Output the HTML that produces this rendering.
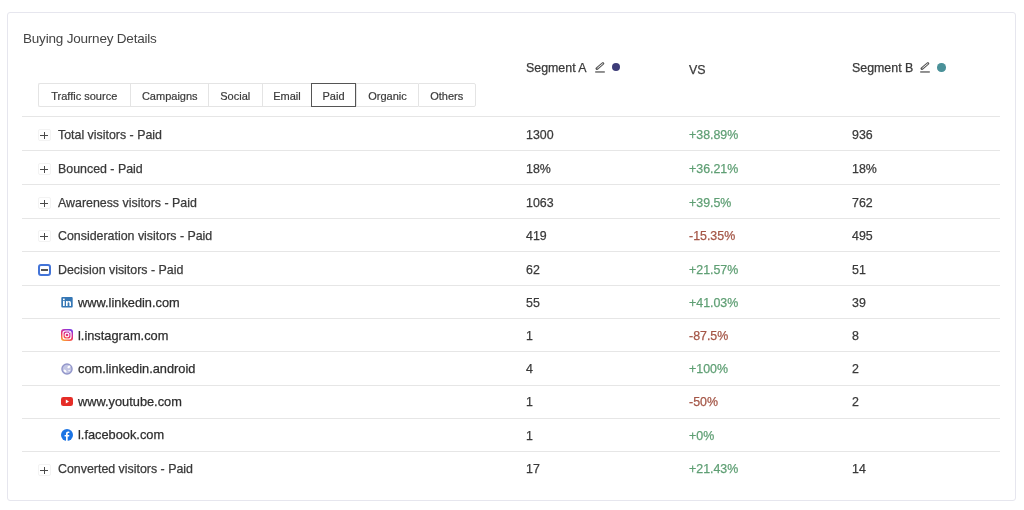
<!DOCTYPE html>
<html><head><meta charset="utf-8">
<style>
*{margin:0;padding:0;box-sizing:border-box}
html,body{width:1024px;height:510px;background:#fff;overflow:hidden;font-family:"Liberation Sans",sans-serif;color:#3a3a3a}
.card{position:absolute;left:7px;top:12px;width:1009px;height:489px;border:1px solid #e6e6ee;border-radius:3px;background:#fff}
.abs{position:absolute;white-space:nowrap;will-change:transform;-webkit-text-stroke:0.2px currentColor}
.title{left:23px;top:31px;font-size:13.5px;color:#444;letter-spacing:-0.2px;-webkit-text-stroke:0}
.tabs{position:absolute;left:0;top:0}
.tab{position:absolute;will-change:transform;-webkit-text-stroke:0.2px currentColor;top:83px;height:24px;font-size:11px;line-height:24px;color:#3a3a3a;text-align:center;border:1px solid #e4e4e4;border-right:none}
.tab:nth-child(7){border-right:1px solid #e4e4e4;border-radius:0 2px 2px 0}
.tab:first-child{border-radius:2px 0 0 2px}
.tab.on{border:1px solid #555;z-index:2}
.line{position:absolute;left:22px;width:978px;height:1px;background:#e6e6e6}
.txt{position:absolute;white-space:nowrap;font-size:12.4px;line-height:14px;will-change:transform;-webkit-text-stroke:0.25px currentColor}
.g{color:#5f9f74}
.r{color:#a45647}
.sub{color:#2e2e2e;font-size:12.8px;line-height:15px}
.plus{position:absolute;left:38px;width:13px;height:12px;border:1px solid #f3f3f3;border-radius:2px}
.plus:before{content:"";position:absolute;left:1px;top:5px;width:8px;height:1px;background:#4a4a4a}
.plus:after{content:"";position:absolute;left:4.5px;top:1.5px;width:1.2px;height:7.5px;background:#4a4a4a}
.ic{position:absolute}
.minus{position:absolute;left:38px;width:13px;height:12px;border:2px solid #4374d8;border-radius:3px}
.minus:before{content:"";position:absolute;left:0.8px;top:3.5px;width:7.4px;height:1.2px;background:#555}
</style></head><body>
<div class="card"></div>
<div class="abs title">Buying Journey Details</div>

<div class="tabs">
  <div class="tab" style="left:38px;width:91.5px">Traffic source</div>
  <div class="tab" style="left:129.5px;width:78.5px">Campaigns</div>
  <div class="tab" style="left:208px;width:53.5px">Social</div>
  <div class="tab" style="left:261.5px;width:49.0px">Email</div>
  <div class="tab on" style="left:310.5px;width:45.0px">Paid</div>
  <div class="tab" style="left:355.5px;width:62.0px">Organic</div>
  <div class="tab" style="left:417.5px;width:57.5px">Others</div>
</div>

<!-- header -->
<div class="txt" style="left:526px;top:61px;font-size:12.4px">Segment A</div>
<svg class="abs" style="left:594px;top:62px" width="12" height="12" viewBox="0 0 12 12"><path d="M2.9 6.6 L8.9 1.5" stroke="#5a5a5a" stroke-width="2.7" stroke-linecap="round"/><path d="M3.6 6.0 L8.6 1.8" stroke="#fff" stroke-width="0.9" stroke-linecap="round"/><rect x="1.2" y="9" width="9.6" height="1.9" fill="#8c8c8c"/></svg>
<div class="abs" style="left:612px;top:63.2px;width:8px;height:8px;border-radius:50%;background:#3d3c78"></div>
<div class="txt" style="left:689px;top:63px;font-size:12.4px">VS</div>
<div class="txt" style="left:852px;top:61px;font-size:12.4px">Segment B</div>
<svg class="abs" style="left:919px;top:62px" width="12" height="12" viewBox="0 0 12 12"><path d="M2.9 6.6 L8.9 1.5" stroke="#5a5a5a" stroke-width="2.7" stroke-linecap="round"/><path d="M3.6 6.0 L8.6 1.8" stroke="#fff" stroke-width="0.9" stroke-linecap="round"/><rect x="1.2" y="9" width="9.6" height="1.9" fill="#8c8c8c"/></svg>
<div class="abs" style="left:937px;top:63px;width:8.5px;height:8.5px;border-radius:50%;background:#4a9199"></div>

<!--ROWS-->
<div class="line" style="top:116px"></div>
<div class="line" style="top:150px"></div>
<div class="line" style="top:184px"></div>
<div class="line" style="top:217.5px"></div>
<div class="line" style="top:251px"></div>
<div class="line" style="top:285px"></div>
<div class="line" style="top:318px"></div>
<div class="line" style="top:351px"></div>
<div class="line" style="top:384.5px"></div>
<div class="line" style="top:418px"></div>
<div class="line" style="top:451px"></div>
<div class="plus" style="top:129px"></div>
<div class="txt" style="left:57.5px;top:128.10px">Total visitors - Paid</div>
<div class="txt" style="left:526px;top:128.10px">1300</div>
<div class="txt g" style="left:689px;top:128.10px">+38.89%</div>
<div class="txt" style="left:852px;top:128.10px">936</div>
<div class="plus" style="top:163px"></div>
<div class="txt" style="left:57.5px;top:161.95px">Bounced - Paid</div>
<div class="txt" style="left:526px;top:161.95px">18%</div>
<div class="txt g" style="left:689px;top:161.95px">+36.21%</div>
<div class="txt" style="left:852px;top:161.95px">18%</div>
<div class="plus" style="top:197px"></div>
<div class="txt" style="left:57.5px;top:195.70px">Awareness visitors - Paid</div>
<div class="txt" style="left:526px;top:195.70px">1063</div>
<div class="txt g" style="left:689px;top:195.70px">+39.5%</div>
<div class="txt" style="left:852px;top:195.70px">762</div>
<div class="plus" style="top:230px"></div>
<div class="txt" style="left:57.5px;top:229.40px">Consideration visitors - Paid</div>
<div class="txt" style="left:526px;top:229.40px">419</div>
<div class="txt r" style="left:689px;top:229.40px">-15.35%</div>
<div class="txt" style="left:852px;top:229.40px">495</div>
<div class="minus" style="top:263.9px"></div>
<div class="txt" style="left:57.5px;top:263.15px">Decision visitors - Paid</div>
<div class="txt" style="left:526px;top:263.15px">62</div>
<div class="txt g" style="left:689px;top:263.15px">+21.57%</div>
<div class="txt" style="left:852px;top:263.15px">51</div>
<svg class="ic" style="left:61px;top:297px" width="12" height="11" viewBox="0 0 12 11"><rect x="0.3" y="0" width="11.4" height="10.6" rx="1" fill="#3577b5"/><rect x="2" y="4" width="1.7" height="5" fill="#fff"/><rect x="2" y="1.6" width="1.7" height="1.6" fill="#fff"/><path d="M5 4 H6.6 V4.8 C7 4.1 7.6 3.9 8.3 3.9 C9.5 3.9 10 4.6 10 6 V9 H8.4 V6.3 C8.4 5.6 8.1 5.2 7.6 5.2 C7 5.2 6.6 5.6 6.6 6.3 V9 H5 Z" fill="#fff"/></svg>
<div class="txt sub" style="left:77.5px;top:294.66px">www.linkedin.com</div>
<div class="txt" style="left:526px;top:296.00px">55</div>
<div class="txt g" style="left:689px;top:296.00px">+41.03%</div>
<div class="txt" style="left:852px;top:296.00px">39</div>
<svg class="ic" style="left:61px;top:329px" width="12" height="12" viewBox="0 0 12 12"><defs><linearGradient id="igg" x1="0.1" y1="1" x2="0.6" y2="0"><stop offset="0" stop-color="#fdb631"/><stop offset="0.45" stop-color="#f0365f"/><stop offset="0.8" stop-color="#c02fb4"/><stop offset="1" stop-color="#7b3be0"/></linearGradient></defs><rect x="0" y="0" width="12" height="12" rx="3" fill="url(#igg)"/><rect x="2" y="2" width="8" height="8" rx="2.3" fill="none" stroke="#fff" stroke-width="1.1"/><circle cx="6" cy="6" r="1.9" fill="none" stroke="#fff" stroke-width="1.1"/><circle cx="8.4" cy="3.6" r="0.5" fill="#fff"/></svg>
<div class="txt sub" style="left:77.5px;top:327.66px">l.instagram.com</div>
<div class="txt" style="left:526px;top:329.20px">1</div>
<div class="txt r" style="left:689px;top:329.20px">-87.5%</div>
<div class="txt" style="left:852px;top:329.20px">8</div>
<svg class="ic" style="left:61px;top:362.5px" width="12" height="12" viewBox="0 0 12 12"><circle cx="6" cy="6" r="5.05" fill="#c3c6e4" stroke="#9296ca" stroke-width="1.4"/><ellipse cx="7.9" cy="3.9" rx="1.7" ry="1.1" transform="rotate(-40 7.9 3.9)" fill="#fff"/><ellipse cx="4.1" cy="8" rx="1.8" ry="1.0" transform="rotate(45 4.1 8)" fill="#fff"/><ellipse cx="8.2" cy="7.6" rx="1.1" ry="0.7" fill="#f4f4fb"/></svg>
<div class="txt sub" style="left:77.5px;top:360.66px">com.linkedin.android</div>
<div class="txt" style="left:526px;top:361.90px">4</div>
<div class="txt g" style="left:689px;top:361.90px">+100%</div>
<div class="txt" style="left:852px;top:361.90px">2</div>
<svg class="ic" style="left:61px;top:397.3px" width="12" height="9" viewBox="0 0 12 9"><rect x="0" y="0" width="12" height="9" rx="2.3" fill="#e52d27"/><path d="M4.8 2.6 L8 4.5 L4.8 6.4 Z" fill="#fff"/></svg>
<div class="txt sub" style="left:77.5px;top:393.66px">www.youtube.com</div>
<div class="txt" style="left:526px;top:395.30px">1</div>
<div class="txt r" style="left:689px;top:395.30px">-50%</div>
<div class="txt" style="left:852px;top:395.30px">2</div>
<svg class="ic" style="left:61px;top:428.8px" width="12" height="12" viewBox="0 0 12 12"><circle cx="6" cy="6" r="6" fill="#1b74e4"/><path d="M6.7 12 V7.6 H8.1 L8.35 6 H6.7 V5 C6.7 4.5 6.95 4.1 7.7 4.1 H8.4 V2.7 C8.1 2.65 7.6 2.6 7.1 2.6 C5.8 2.6 5 3.4 5 4.8 V6 H3.6 V7.6 H5 V12 Z" fill="#fff"/></svg>
<div class="txt sub" style="left:77.5px;top:427.36px">l.facebook.com</div>
<div class="txt" style="left:526px;top:428.85px">1</div>
<div class="txt g" style="left:689px;top:428.85px">+0%</div>
<div class="plus" style="top:464px"></div>
<div class="txt" style="left:57.5px;top:462.20px">Converted visitors - Paid</div>
<div class="txt" style="left:526px;top:462.20px">17</div>
<div class="txt g" style="left:689px;top:462.20px">+21.43%</div>
<div class="txt" style="left:852px;top:462.20px">14</div>
<!--/ROWS-->
</body></html>
